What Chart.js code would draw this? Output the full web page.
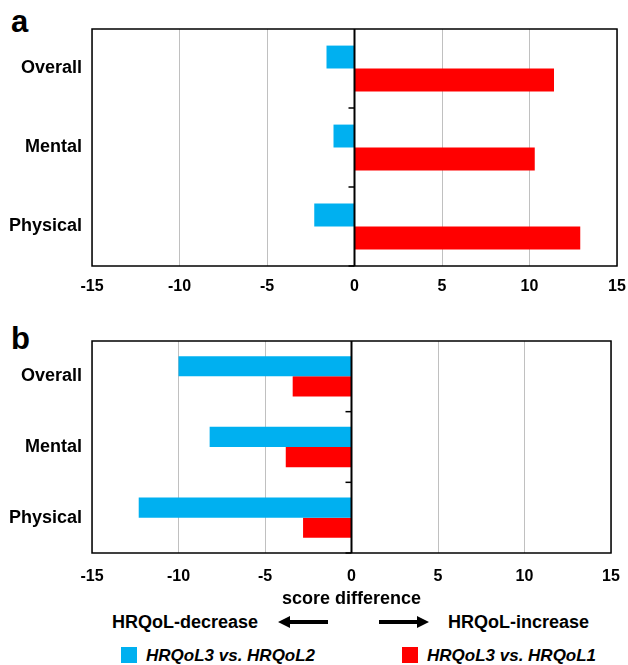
<!DOCTYPE html>
<html>
<head>
<meta charset="utf-8">
<script src="https://cdn.jsdelivr.net/npm/chart.js@4.4.1/dist/chart.umd.min.js"></script>
<style>
    body { margin: 0; background: #fff; font-family: "Liberation Sans", Arial, sans-serif; }
    #page { position: relative; width: 628px; height: 665px; overflow: hidden; }
    .panel { position: absolute; left: 0; width: 628px; }
    .tag { position: absolute; left: 11px; font-weight: bold; font-size: 31px; line-height: 31px; }
    .note { position: absolute; font-weight: bold; font-size: 18px; line-height: 18px; white-space: nowrap; }
    .arrow { position: absolute; }
    .legend-item { position: absolute; top: 647px; height: 17px; white-space: nowrap; }
    .legend-item .box { position: absolute; left: 0; top: 0; width: 16px; height: 16px; }
    .legend-item .txt { position: absolute; left: 25px; top: 0; font-weight: bold; font-style: italic; font-size: 17px; line-height: 17px; }
</style>
</head>
<body>
<div id="page">
    <div class="tag" style="top:6px">a</div>
    <div class="panel" style="top:0; height:300px"><canvas id="chartA"></canvas></div>

    <div class="tag" style="top:323px">b</div>
    <div class="panel" style="top:300px; height:312px"><canvas id="chartB"></canvas></div>

    <div class="note" style="left:112px; top:613px">HRQoL-decrease</div>
    <svg class="arrow" style="left:276px; top:614px" width="54" height="16">
        <polygon points="2,8 14,2 14,6 52,6 52,10 14,10 14,14" fill="#000"/>
    </svg>
    <svg class="arrow" style="left:377px; top:614px" width="56" height="16">
        <polygon points="2,6 40,6 40,2 52,8 40,14 40,10 2,10" fill="#000"/>
    </svg>
    <div class="note" style="left:448px; top:613px">HRQoL-increase</div>

    <div id="legend"></div>
</div>

<script>
// categories and series
const categories = ['Overall', 'Mental', 'Physical'];
const seriesNames = ['HRQoL3 vs. HRQoL2', 'HRQoL3 vs. HRQoL1'];
const seriesColors = ['#00B0F0', '#FF0000'];

// panel a score differences
const panelA_L3vsL2 = [-1.6, -1.2, -2.3];
const panelA_L3vsL1 = [11.4, 10.3, 12.9];

// panel b score differences
const panelB_L3vsL2 = [-10.0, -8.2, -12.3];
const panelB_L3vsL1 = [-3.4, -3.8, -2.8];

// x axis ticks
const xTicks = [-15, -10, -5, 0, 5, 10, 15];

// frame, zero line and small category ticks on the zero line
const framePlugin = {
    id: 'frame',
    afterDatasetsDraw(chart) {
        const { ctx, chartArea: a, scales } = chart;
        const x0 = scales.x.getPixelForValue(0);
        ctx.save();
        ctx.strokeStyle = '#000';
        ctx.lineWidth = 1.5;
        ctx.strokeRect(a.left, a.top, a.right - a.left, a.bottom - a.top);
        ctx.lineWidth = 2;
        ctx.beginPath();
        ctx.moveTo(x0, a.top);
        ctx.lineTo(x0, a.bottom);
        ctx.stroke();
        const y = scales.y;
        const step = (a.bottom - a.top) / categories.length;
        ctx.lineWidth = 1.5;
        for (let i = 1; i <= categories.length; i++) {
            const py = y.getPixelForValue(i - 1) + step / 2;
            ctx.beginPath();
            ctx.moveTo(x0 - 6, py);
            ctx.lineTo(x0, py);
            ctx.stroke();
        }
        ctx.restore();
    }
};

function createPanel(canvasId, valuesL2, valuesL1, opts) {
    const ctx = document.getElementById(canvasId);
    return new Chart(ctx, {
        type: 'bar',
        data: {
            labels: categories,
            datasets: [
                { label: seriesNames[0], data: valuesL2, backgroundColor: seriesColors[0] },
                { label: seriesNames[1], data: valuesL1, backgroundColor: seriesColors[1] }
            ]
        },
        options: {
            indexAxis: 'y',
            responsive: true,
            maintainAspectRatio: false,
            animation: false,
            categoryPercentage: opts.catPct,
            barPercentage: 1.0,
            borderWidth: 0,
            layout: { padding: { top: opts.padTop, right: opts.padRight, left: 0, bottom: 0 } },
            plugins: {
                legend: { display: false },
                tooltip: { enabled: false }
            },
            scales: {
                x: {
                    min: xTicks[0],
                    max: xTicks[xTicks.length - 1],
                    afterBuildTicks: (s) => { s.ticks = xTicks.map(v => ({ value: v })); },
                    afterFit: (s) => {
                        s.height = opts.xHeight;
                        s.paddingLeft = 0;
                        s.paddingRight = 0;
                    },
                    border: { display: false },
                    grid: {
                        color: '#c0c0c0',
                        lineWidth: 1,
                        drawTicks: false
                    },
                    ticks: {
                        color: '#000',
                        padding: opts.tickPad,
                        font: { family: 'Liberation Sans', size: 16, weight: 'bold' }
                    },
                    title: {
                        display: !!opts.xTitle,
                        text: opts.xTitle || '',
                        color: '#000',
                        padding: { top: 0, bottom: 2 },
                        font: { family: 'Liberation Sans', size: 18, weight: 'bold' }
                    }
                },
                y: {
                    afterFit: (s) => {
                        s.width = 92;
                        s.paddingTop = 0;
                        s.paddingBottom = 0;
                    },
                    border: { display: false },
                    grid: { display: false, drawTicks: false },
                    ticks: {
                        color: '#000',
                        padding: 10,
                        font: { family: 'Liberation Sans', size: 18, weight: 'bold' }
                    }
                }
            }
        },
        plugins: [framePlugin]
    });
}

createPanel('chartA', panelA_L3vsL2, panelA_L3vsL1, {
    catPct: 0.58, padTop: 29, padRight: 11, xHeight: 34, tickPad: 11
});
createPanel('chartB', panelB_L3vsL2, panelB_L3vsL1, {
    catPct: 0.57, padTop: 41, padRight: 17, xHeight: 59, tickPad: 14,
    xTitle: 'score difference'
});

// legend built from the series arrays
const legend = document.getElementById('legend');
const legendLeft = [121, 402];
seriesNames.forEach((name, i) => {
    const item = document.createElement('div');
    item.className = 'legend-item';
    item.style.left = legendLeft[i] + 'px';
    item.innerHTML = '<div class="box" style="background:' + seriesColors[i] + '"></div>' +
        '<div class="txt">' + name + '</div>';
    legend.appendChild(item);
});
</script>
</body>
</html>
